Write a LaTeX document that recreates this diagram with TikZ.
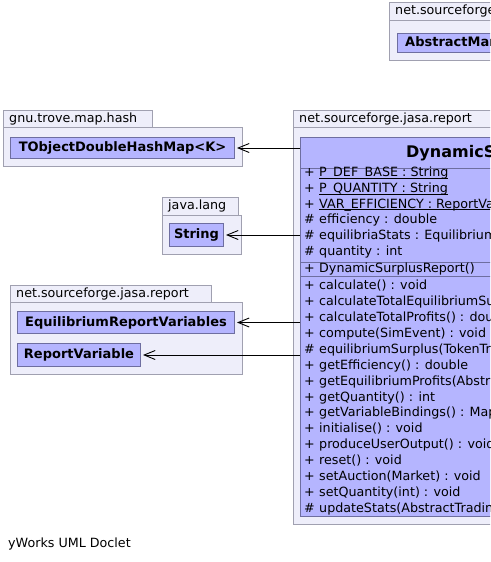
\documentclass[tikz,border=0pt]{standalone}
\usepackage{fontspec}
\setmainfont{DejaVu Sans}
\usetikzlibrary{arrows.meta}
\definecolor{pkgfill}{RGB}{238,238,250}
\definecolor{pkgdraw}{RGB}{160,160,176}
\definecolor{clsfill}{RGB}{181,181,255}
\definecolor{clsdraw}{RGB}{110,110,160}
\newcommand\ulstatic[1]{\underline{\smash{#1}}}
\tikzset{
  pkg/.style={draw=pkgdraw, fill=pkgfill, line width=1pt},
  pkglabel/.style={anchor=west, inner sep=0pt, font=\fontsize{12.7}{14}\selectfont},
  cls/.style={draw=clsdraw, fill=clsfill, line width=1pt, inner sep=0pt, font=\fontsize{13}{15}\bfseries\selectfont},
  member/.style={anchor=base west, inner sep=0pt, font=\fontsize{12.7}{14}\selectfont},
  dep/.style={draw=black, line width=0.9pt, -{Straight Barb[length=11pt,width=9pt,line width=0.9pt]}, shorten >=2pt}
}
\begin{document}
\begin{tikzpicture}[x=1pt,y=-1pt]
\useasboundingbox (0,0) rectangle (490,562);
\fill[white] (0,0) rectangle (490,562);
\clip (0,0) rectangle (490,562);

% top package (cut off)
\draw[pkg] (389,2) rectangle (520,20);
\draw[pkg] (389,20) rectangle (620,60);
\node[pkglabel] at (395,11) {net.sourceforge.jasa.report};
\node[draw=clsdraw, fill=clsfill, line width=1pt, anchor=north west, minimum width=200pt, minimum height=19pt, inner sep=0pt] (amr) at (397,33) {};
\node[anchor=west, inner sep=0pt, font=\fontsize{13}{15}\bfseries\selectfont] (amrt) at (405,42.5) {AbstractMarketStatsReport};

% gnu.trove.map.hash
\draw[pkg] (3,110) rectangle (152,127);
\draw[pkg] (3,127) rectangle (242,166);
\node[pkglabel] at (9,119) {gnu.trove.map.hash};
\node[cls, anchor=north west, minimum width=224pt, minimum height=21pt] (tob) at (10,137) {TObjectDoubleHashMap<K>};

% java.lang
\draw[pkg] (162,197) rectangle (238,215);
\draw[pkg] (162,215) rectangle (241,254);
\node[pkglabel] at (168,206) {java.lang};
\node[cls, anchor=north west, minimum width=54pt, minimum height=23pt] (str) at (169,223) {String};

% left net.sourceforge.jasa.report
\draw[pkg] (10,285) rectangle (211,302);
\draw[pkg] (10,302) rectangle (242,374);
\node[pkglabel] at (16,293.5) {net.sourceforge.jasa.report};
\node[cls, anchor=north west, minimum width=217pt, minimum height=22pt] (erv) at (17,311) {EquilibriumReportVariables};
\node[cls, anchor=north west, minimum width=123pt, minimum height=23pt] (rv) at (17,343) {ReportVariable};

% right package
\draw[pkg] (293,110) rectangle (520,127);
\draw[pkg] (293,127) rectangle (760,524);
\node[pkglabel] at (299,119) {net.sourceforge.jasa.report};
\node[draw=clsdraw, fill=clsfill, line width=1pt, anchor=north west, minimum width=450pt, minimum height=379pt, inner sep=0pt] (dsr) at (300,137) {};
\node[anchor=west, inner sep=0pt, font=\fontsize{16}{18}\bfseries\selectfont] (dsrt) at (406,153) {DynamicSurplusReport};
\draw[clsdraw, line width=1pt] (300,168) -- (750,168);
\draw[clsdraw, line width=1pt] (300,262) -- (750,262);
\draw[clsdraw, line width=1pt] (300,276) -- (750,276);

% attributes (baselines)
\foreach \s/\t [count=\i from 0] in {
  +/\ulstatic{P\_DEF\_BASE : String},
  +/\ulstatic{P\_QUANTITY : String},
  +/\ulstatic{VAR\_EFFICIENCY : ReportVariable},
  \#/efficiency : double,
  \#/equilibriaStats : EquilibriumReportVariables,
  \#/quantity : int}{
  \node[member] (as\i) at (304,{176.5+15.8*\i}) {\s};
  \node[member] (at\i) at (319,{176.5+15.8*\i}) {\t};
}
% constructor
\node[member] (cs) at (304,272.5) {+};
\node[member] (ct) at (319,272.5) {DynamicSurplusReport()};

% methods
\foreach \s/\t [count=\i from 0] in {
  +/calculate() : void,
  +/calculateTotalEquilibriumSurplus() : double,
  +/calculateTotalProfits() : double,
  +/compute(SimEvent) : void,
  \#/equilibriumSurplus(TokenTradingAgent) : double,
  +/getEfficiency() : double,
  +/getEquilibriumProfits(AbstractTradingAgent) : double,
  +/getQuantity() : int,
  +/getVariableBindings() : Map,
  +/initialise() : void,
  +/produceUserOutput() : void,
  +/reset() : void,
  +/setAuction(Market) : void,
  +/setQuantity(int) : void,
  \#/updateStats(AbstractTradingAgent) : void}{
  \node[member] (ms\i) at (304,{289.5+15.93*\i}) {\s};
  \node[member] (mt\i) at (319,{289.5+15.93*\i}) {\t};
}

% dependencies
\draw[dep] (tob.east -| dsr.west) -- (tob.east);
\draw[dep] (str.east -| dsr.west) -- (str.east);
\draw[dep] (erv.east -| dsr.west) -- (erv.east);
\draw[dep] (rv.east -| dsr.west) -- (rv.east);

\node[anchor=west, inner sep=0pt, font=\fontsize{12.7}{14}\selectfont] (foot) at (8,544) {yWorks UML Doclet};
\end{tikzpicture}
\end{document}
